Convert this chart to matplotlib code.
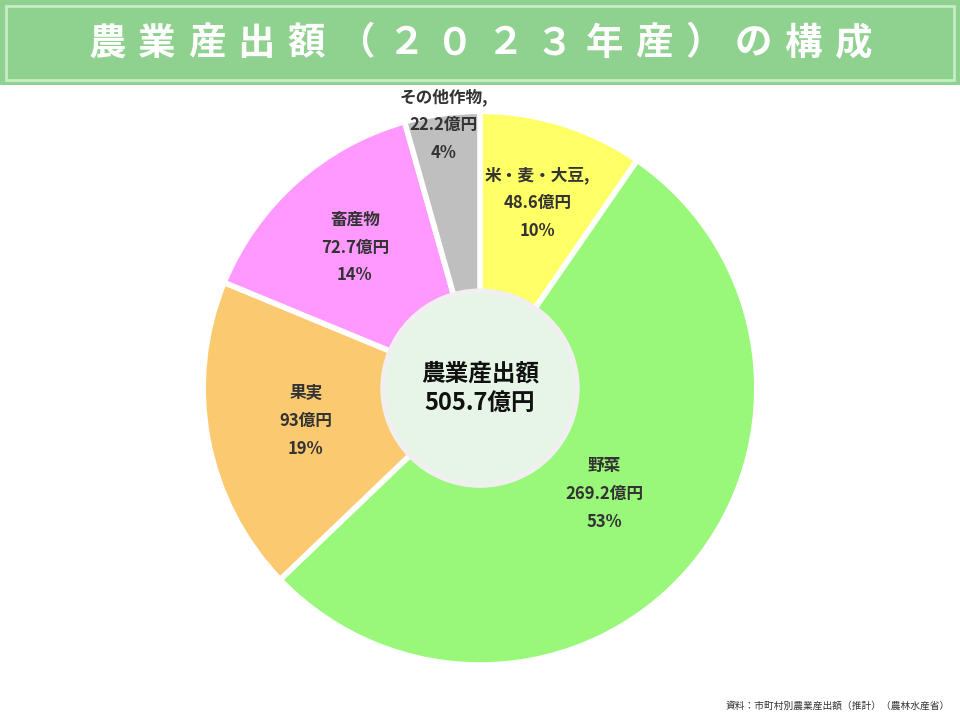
import matplotlib
matplotlib.use("Agg")
import matplotlib.pyplot as plt
from matplotlib.patches import Rectangle, Circle
import numpy as np

plt.rcParams['font.family'] = ['Noto Sans CJK JP', 'DejaVu Sans']

title = "農業産出額（２０２３年産）の構成"
categories = ["米・麦・大豆,", "野菜", "果実", "畜産物", "その他作物,"]
values = [48.6, 269.2, 93, 72.7, 22.2]
value_labels = ["48.6億円", "269.2億円", "93億円", "72.7億円", "22.2億円"]
pct_labels = ["10%", "53%", "19%", "14%", "4%"]
colors = ["#ffff66", "#99f77a", "#fbc970", "#ff99ff", "#bfbfbf"]
label_r = [0.70, 0.59, 0.64, 0.68, 0.96]

fig = plt.figure(figsize=(9.6, 7.2), dpi=100)
fig.patch.set_facecolor("white")

# title band
fig.patches.append(Rectangle((0, 1 - 85/720), 1, 85/720, transform=fig.transFigure,
                             facecolor="#8fd18f", edgecolor="none", zorder=0))
fig.patches.append(Rectangle((6/960, 1 - 80/720), 948/960, 74/720, transform=fig.transFigure,
                             facecolor="none", edgecolor="#c8ecc8", lw=2, zorder=1))
n = len(title)
x0, x1 = 107, 853
for i, ch in enumerate(title):
    xp = x0 + (x1 - x0) * i / (n - 1)
    fig.text(xp / 960, 1 - 43/720, ch, ha="center", va="center",
             color="white", fontsize=27, fontweight="bold")

ax = fig.add_axes([0.2115, 0.0764, 0.577, 0.769])
wedges, _ = ax.pie(values, colors=colors, startangle=90, counterclock=False,
                   wedgeprops=dict(edgecolor="white", linewidth=4))
ax.set_xlim(-1, 1); ax.set_ylim(-1, 1); ax.set_aspect("equal"); ax.axis("off")

total = sum(values)
cum = 0
for i, v in enumerate(values):
    mid = 90 - (cum + v / 2) / total * 360
    cum += v
    r = label_r[i]
    x, y = r * np.cos(np.radians(mid)), r * np.sin(np.radians(mid))
    ax.text(x, y, f"{categories[i]}\n{value_labels[i]}\n{pct_labels[i]}", ha="center",
            va="center", fontsize=12, fontweight="bold", color="#333333", linespacing=1.7)

ax.add_patch(Circle((0, 0), 0.35, facecolor="#e6f5e6", edgecolor="#f0f0f0", lw=4, zorder=5))
ax.text(0, 0.0, "農業産出額\n" + f"{total:.1f}億円", ha="center", va="center", fontsize=17,
        fontweight="bold", color="#111111", zorder=6, linespacing=1.3)

fig.text(950/960, 1 - 706/720, "資料：市町村別農業産出額（推計）（農林水産省）", ha="right", va="center",
         fontsize=7, color="#333333")

fig.savefig("out.png", dpi=100)
